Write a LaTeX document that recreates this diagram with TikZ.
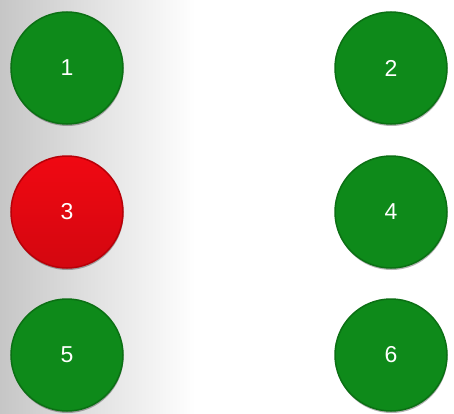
\documentclass[tikz,border=0pt]{standalone}
\usepackage{fontspec}
\setmainfont{Liberation Sans}
\usetikzlibrary{shadows}
\definecolor{gbtn}{HTML}{0E8A1A}
\definecolor{gedge}{HTML}{0B7014}
\definecolor{rbtn}{HTML}{F00812}
\definecolor{redge}{HTML}{B80008}
\definecolor{bggray}{HTML}{C6C6C6}
\tikzset{
  btn/.style={circle, minimum size=112pt, inner sep=0pt, text=white,
    font=\fontsize{23}{27}\selectfont,
    drop shadow={shadow xshift=0.5pt, shadow yshift=-2pt, opacity=0.3, fill=black}},
  gbutton/.style={btn, fill=gbtn, draw=gedge, line width=1.5pt},
  rbutton/.style={btn, top color=rbtn, bottom color=rbtn!88!black, draw=redge, line width=1.5pt},
}
\begin{document}
\begin{tikzpicture}[x=1pt,y=1pt]
\useasboundingbox (0,0) rectangle (454,413);
\fill[white] (0,0) rectangle (454,413);
\shade[left color=bggray, right color=white] (0,0) rectangle (195,413);
\node[gbutton] (n1) at (67,345) {1};
\node[gbutton] (n2) at (391,345) {2};
\node[rbutton] (n3) at (67,201) {3};
\node[gbutton] (n4) at (391,201) {4};
\node[gbutton] (n5) at (67,58) {5};
\node[gbutton] (n6) at (391,58) {6};
\end{tikzpicture}
\end{document}
